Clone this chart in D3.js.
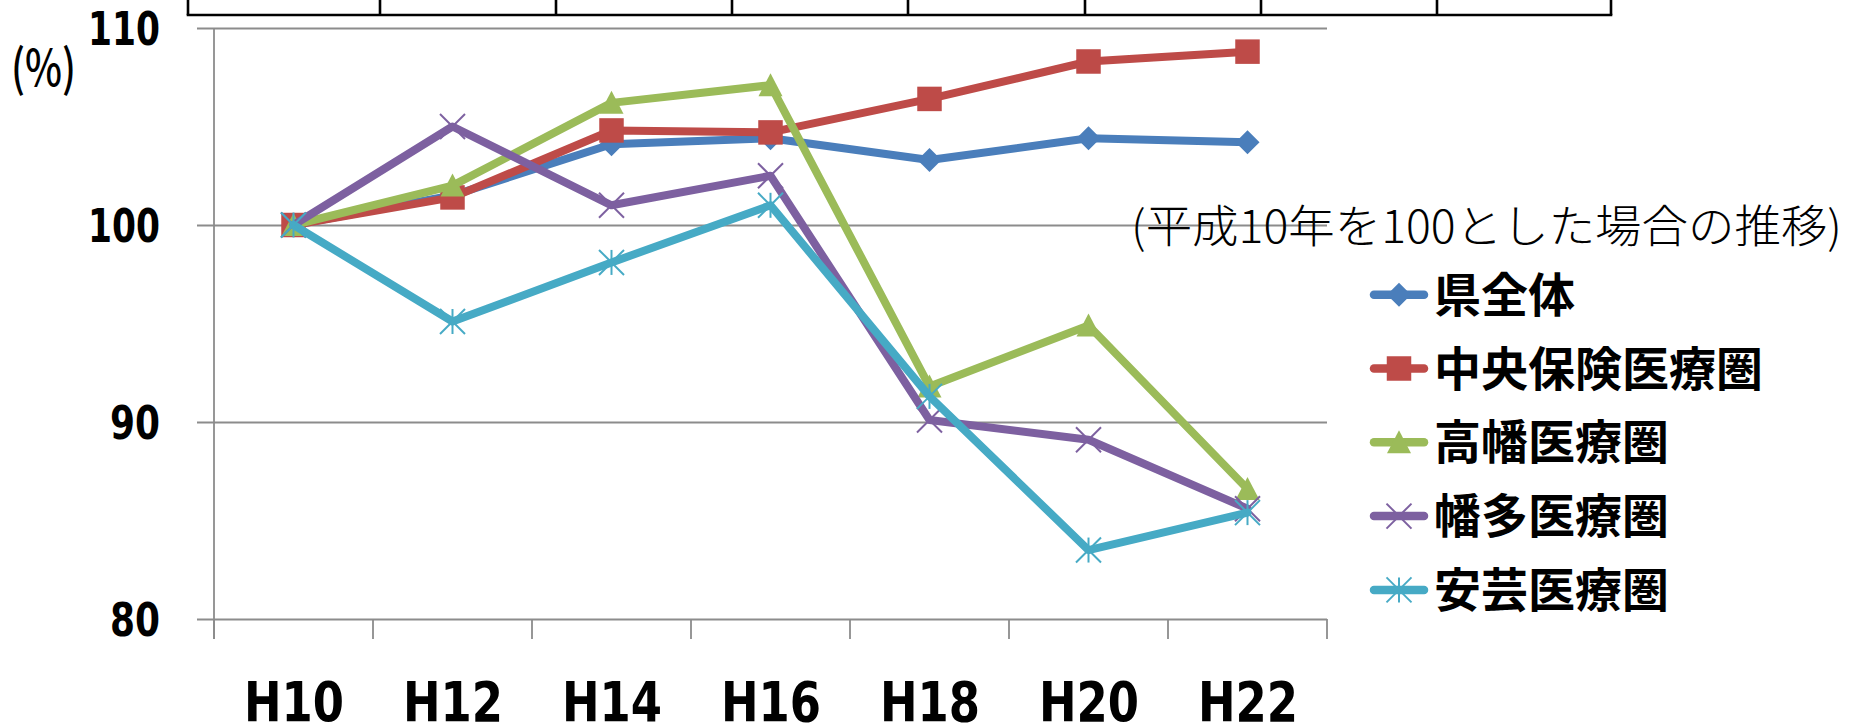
<!DOCTYPE html>
<html lang="ja">
<head>
<meta charset="utf-8">
<script src="https://cdn.jsdelivr.net/npm/d3@7/dist/d3.min.js"></script>
<style>
  html, body { margin: 0; padding: 0; background: #ffffff; }
  svg { display: block; }
</style>
</head>
<body>
<svg id="chart" width="1850" height="727"></svg>
<script>
// 年度区分（平成）
const categories = ["H10", "H12", "H14", "H16", "H18", "H20", "H22"];

// 系列名
const seriesNames = ["県全体", "中央保険医療圏", "高幡医療圏", "幡多医療圏", "安芸医療圏"];

// 平成10年を100とした指数
const kenZentai   = [100, 101.5, 104.1, 104.4, 103.3, 104.4, 104.2];
const chuoHoken   = [100, 101.4, 104.8, 104.7, 106.4, 108.3, 108.8];
const takahata    = [100, 102.0, 106.2, 107.1, 91.8, 94.9, 86.6];
const hata        = [100, 105.0, 101.0, 102.5, 90.1, 89.1, 85.6];
const aki         = [100, 95.1, 98.1, 101.0, 91.3, 83.5, 85.4];

// 縦軸目盛
const yTicks = [80, 90, 100, 110];

const seriesValues = [kenZentai, chuoHoken, takahata, hata, aki];
const colors  = ["#4a7ebb", "#be4b48", "#9bbb59", "#7d60a0", "#46aac5"];
const markers = ["diamond", "square", "triangle", "x", "star"];

const svg = d3.select("#chart");
svg.append("rect").attr("width", 1850).attr("height", 727).attr("fill", "#fff");

// 上部の表の枠線
const tableCols = [188, 380, 556, 732, 908, 1085, 1261, 1437, 1611];
const tableG = svg.append("g").attr("stroke", "#000").attr("stroke-width", 2.6).attr("fill", "none");
tableG.append("line").attr("x1", tableCols[0] - 1.3).attr("x2", tableCols[tableCols.length - 1] + 1.3)
  .attr("y1", 15).attr("y2", 15);
tableCols.forEach(x => tableG.append("line").attr("x1", x).attr("x2", x).attr("y1", -2).attr("y2", 15));

// プロット領域
const plot = { left: 214, right: 1327, top: 28, bottom: 619 };

const x = d3.scalePoint().domain(categories).range([plot.left, plot.right]).padding(0.5);
const xBand = d3.scaleBand().domain(categories).range([plot.left, plot.right]).padding(0);
const y = d3.scaleLinear().domain([80, 110]).range([plot.bottom, plot.top]);

const axisColor = "#8c8c8c";
const numFont = "'Liberation Sans Narrow', 'DejaVu Sans Condensed', 'Liberation Sans', sans-serif";
const jpFont = "'Noto Sans CJK JP', 'Noto Sans CJK SC', sans-serif";

// 縦軸（目盛線付き）
const yAxis = d3.axisLeft(y)
  .tickValues(yTicks)
  .tickSizeInner(-(plot.right - (plot.left - 17)))
  .tickSizeOuter(0)
  .tickPadding(37)
  .tickFormat(d3.format("d"));

const yG = svg.append("g")
  .attr("transform", `translate(${plot.left - 17},0)`)
  .call(yAxis);
yG.select(".domain").remove();
yG.selectAll(".tick line").attr("stroke", axisColor).attr("stroke-width", 1.8);
yG.selectAll(".tick text")
  .attr("fill", "#000")
  .attr("font-family", numFont)
  .attr("font-weight", "bold")
  .attr("font-size", 46)
  .attr("dy", "0.36em")
  .attr("textLength", d => (String(d).length === 3 ? 72 : 50))
  .attr("lengthAdjust", "spacingAndGlyphs");

// 縦軸線
svg.append("line")
  .attr("x1", plot.left).attr("x2", plot.left)
  .attr("y1", plot.top).attr("y2", plot.bottom + 20)
  .attr("stroke", axisColor).attr("stroke-width", 1.8);

// 横軸（区分境界の目盛）
const boundaries = categories.map(c => xBand(c)).concat([plot.right]);
svg.append("g").selectAll("line").data(boundaries).join("line")
  .attr("x1", d => d).attr("x2", d => d)
  .attr("y1", plot.bottom).attr("y2", plot.bottom + 20)
  .attr("stroke", axisColor).attr("stroke-width", 1.8);

const xAxis = d3.axisBottom(x).tickSize(0).tickPadding(0);
const xG = svg.append("g").attr("transform", `translate(0,${plot.bottom})`).call(xAxis);
xG.select(".domain").remove();
xG.selectAll(".tick text")
  .attr("fill", "#000")
  .attr("font-family", numFont)
  .attr("font-weight", "bold")
  .attr("font-size", 55)
  .attr("y", 102)
  .attr("dy", 0)
  .attr("textLength", 100)
  .attr("lengthAdjust", "spacingAndGlyphs");

// 単位
svg.append("text")
  .attr("x", 11).attr("y", 86)
  .attr("font-family", jpFont)
  .attr("font-weight", 500)
  .attr("font-size", 50)
  .attr("textLength", 65)
  .attr("lengthAdjust", "spacingAndGlyphs")
  .text("(%)");

// 注記
svg.append("text")
  .attr("x", 1131).attr("y", 243)
  .attr("font-family", jpFont)
  .attr("font-weight", 200)
  .attr("font-size", 45)
  .attr("textLength", 711)
  .attr("lengthAdjust", "spacingAndGlyphs")
  .text("(平成10年を100とした場合の推移)");

// マーカー描画
function drawMarker(g, type, color, cx, cy) {
  const m = g.append("g").attr("transform", `translate(${cx},${cy})`);
  if (type === "diamond") {
    m.append("path").attr("d", d3.symbol(d3.symbolSquare, 290)()).attr("transform", "rotate(45)").attr("fill", color);
  } else if (type === "square") {
    m.append("path").attr("d", d3.symbol(d3.symbolSquare, 600)()).attr("fill", color);
  } else if (type === "triangle") {
    m.append("path").attr("d", "M0,-12L12,11L-12,11Z").attr("fill", color);
  } else {
    const s = 12.5;
    const segs = [[-s, -s, s, s], [-s, s, s, -s]];
    if (type === "star") segs.push([0, -s, 0, s]);
    segs.forEach(([a, b, c, d]) => m.append("line")
      .attr("x1", a).attr("y1", b).attr("x2", c).attr("y2", d)
      .attr("stroke", color).attr("stroke-width", 2));
  }
}

// 系列の折れ線
const line = d3.line().x((d, i) => x(categories[i])).y(d => y(d));
seriesValues.forEach((vals, si) => {
  const g = svg.append("g");
  g.append("path")
    .attr("d", line(vals))
    .attr("fill", "none")
    .attr("stroke", colors[si])
    .attr("stroke-width", 8)
    .attr("stroke-linejoin", "round")
    .attr("stroke-linecap", "round");
  vals.forEach((v, i) => drawMarker(g, markers[si], colors[si], x(categories[i]), y(v)));
});

// 凡例
const legend = { x: 1370, w: 58, top: 294.7, step: 73.8 };
seriesNames.forEach((name, si) => {
  const cy = legend.top + si * legend.step;
  const g = svg.append("g");
  g.append("line")
    .attr("x1", legend.x + 4).attr("x2", legend.x + legend.w - 4)
    .attr("y1", cy).attr("y2", cy)
    .attr("stroke", colors[si]).attr("stroke-width", 8.5).attr("stroke-linecap", "round");
  drawMarker(g, markers[si], colors[si], legend.x + legend.w / 2, cy);
  g.append("text")
    .attr("x", legend.x + legend.w + 6)
    .attr("y", cy + 17)
    .attr("font-family", jpFont)
    .attr("font-weight", "bold")
    .attr("font-size", 47)
    .attr("fill", "#000")
    .text(name);
});
</script>
</body>
</html>
